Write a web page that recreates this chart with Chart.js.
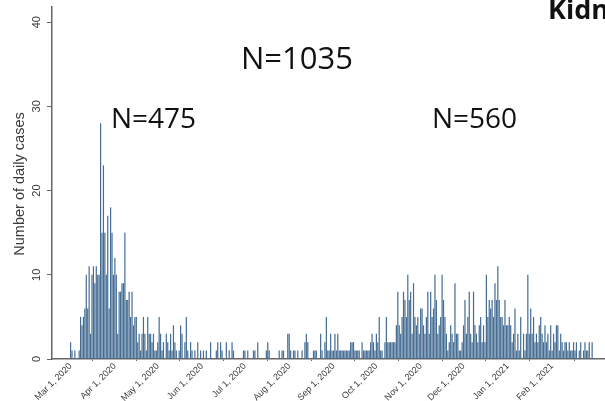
<!DOCTYPE html>
<html>
<head>
<meta charset="utf-8">
<script src="https://cdn.jsdelivr.net/npm/chart.js@4.4.0/dist/chart.umd.min.js"></script>
<style>
  html, body { margin: 0; padding: 0; background: #fff; }
  #wrap { width: 605px; height: 401px; }
</style>
</head>
<body>
<div id="wrap"><canvas id="chart" width="605" height="401"></canvas></div>
<script>
// daily case counts, one array per month
const mar2020 = [2,1,0,1,0,0,1,5,4,5,6,10,6,11,3,10,11,9,11,10,10,28,15,23,15,10,17,6,18,15,10];
const apr2020 = [12,10,3,8,8,9,9,15,7,7,8,5,8,4,5,5,2,3,1,3,5,3,1,5,3,3,2,3,1,1];
const may2020 = [2,5,3,1,2,0,3,2,1,3,1,4,2,1,0,1,4,3,0,2,5,1,0,2,1,0,1,0,2,0,1];
const jun2020 = [0,1,0,1,0,0,2,0,0,0,1,2,0,2,1,0,0,2,0,1,0,2,1,0,0,0,0,0,0,1];
const jul2020 = [1,0,1,0,0,0,1,1,0,2,0,0,0,0,0,1,2,1,0,0,0,0,0,0,1,0,1,1,0,0,3];
const aug2020 = [3,1,0,1,1,0,1,0,0,1,0,2,3,2,0,0,0,1,1,1,0,0,3,1,0,2,5,1,1,3,1];
const sep2020 = [1,3,1,3,1,1,1,1,1,1,1,1,2,2,2,1,1,1,1,0,2,1,1,1,1,1,2,3,2,1];
const oct2020 = [3,2,5,1,1,0,2,5,2,2,2,2,2,2,4,8,4,3,5,8,7,5,10,7,8,3,9,5,4,5,3];
const nov2020 = [6,6,4,3,5,8,3,8,5,6,10,7,3,4,5,10,7,5,3,1,2,4,3,2,9,3,3,1,1,2];
const dec2020 = [4,7,3,5,8,3,2,8,4,3,2,4,5,2,4,2,10,5,7,6,7,5,9,7,11,7,5,5,4,7,4];
const jan2021 = [4,5,4,2,3,6,1,3,1,5,0,3,1,3,10,3,6,3,5,2,3,2,4,5,3,2,4,2,3,1,4];
const feb2021 = [1,3,2,4,4,1,3,2,1,2,2,1,2,1,1,2,1,2,0,1,2,0,1,2,1,1,2,0];
const mar2021 = [2];

// x axis: days since Mar 1, 2020
const monthStarts = [0, 31, 61, 92, 122, 153, 184, 214, 245, 275, 306, 337];
const monthLabels = ["Mar 1, 2020", "Apr 1, 2020", "May 1, 2020", "Jun 1, 2020",
  "Jul 1, 2020", "Aug 1, 2020", "Sep 1, 2020", "Oct 1, 2020", "Nov 1, 2020",
  "Dec 1, 2020", "Jan 1, 2021", "Feb 1, 2021"];
const yTicks = [0, 10, 20, 30, 40];
const yTitle = "Number of daily cases";
const notes = ["N=1035", "N=475", "N=560"];
const slideTitle = "Kidney";

const counts = [].concat(mar2020, apr2020, may2020, jun2020, jul2020, aug2020,
  sep2020, oct2020, nov2020, dec2020, jan2021, feb2021, mar2021);
const points = counts.map((c, i) => ({ x: i, y: c }));

// y tick labels (rotated), y title, text notes
const extras = {
  id: "extras",
  afterDraw(chart) {
    const ctx = chart.ctx;
    const y = chart.scales.y;
    ctx.save();
    ctx.fillStyle = "#3a3a3a";
    ctx.font = "11px 'Liberation Sans', Arial, sans-serif";
    ctx.textAlign = "center";
    ctx.textBaseline = "middle";
    yTicks.forEach((v) => {
      ctx.save();
      ctx.translate(37, y.getPixelForValue(v));
      ctx.rotate(-Math.PI / 2);
      ctx.fillText(String(v), 0, 0);
      ctx.restore();
    });
    ctx.font = "14.5px 'Liberation Sans', Arial, sans-serif";
    ctx.save();
    ctx.translate(20, 184);
    ctx.rotate(-Math.PI / 2);
    ctx.fillText(yTitle, 0, 0);
    ctx.restore();

    ctx.fillStyle = "#111";
    ctx.textAlign = "left";
    ctx.textBaseline = "alphabetic";
    ctx.font = "31px 'Open Sans', sans-serif";
    ctx.fillText(notes[0], 241, 69);
    ctx.font = "28px 'Open Sans', sans-serif";
    ctx.fillText(notes[1], 111, 128);
    ctx.fillText(notes[2], 432, 128);
    ctx.font = "bold 27px 'Open Sans', sans-serif";
    ctx.fillText(slideTitle, 548, 19);
    ctx.restore();
  }
};

new Chart(document.getElementById("chart"), {
  type: "bar",
  data: {
    datasets: [{
      data: points,
      backgroundColor: "#466d94",
      borderWidth: 0,
      barPercentage: 0.85,
      categoryPercentage: 1.0
    }]
  },
  options: {
    responsive: false,
    animation: false,
    layout: { padding: { top: 7, right: 0, left: 0, bottom: 0 } },
    plugins: { legend: { display: false }, tooltip: { enabled: false } },
    scales: {
      x: {
        type: "linear",
        min: -13,
        max: 374,
        offset: false,
        afterBuildTicks: (s) => { s.ticks = monthStarts.map((v) => ({ value: v })); },
        afterFit: (s) => { s.height = 42; },
        grid: { drawOnChartArea: false, drawTicks: true, tickLength: 2, color: "#666" },
        border: { color: "#666", width: 1.5 },
        ticks: {
          autoSkip: false,
          minRotation: 45,
          maxRotation: 45,
          padding: 0,
          color: "#3a3a3a",
          font: { family: "'Liberation Sans', Arial, sans-serif", size: 9 },
          callback: (v, i) => monthLabels[i]
        }
      },
      y: {
        min: 0,
        max: 41.8,
        afterBuildTicks: (s) => { s.ticks = yTicks.map((v) => ({ value: v })); },
        afterFit: (s) => { s.width = 52; },
        grid: { drawOnChartArea: false, drawTicks: true, tickLength: 5, color: "#666" },
        border: { color: "#666", width: 1.5 },
        ticks: { display: false }
      }
    }
  },
  plugins: [extras]
});
</script>
</body>
</html>
